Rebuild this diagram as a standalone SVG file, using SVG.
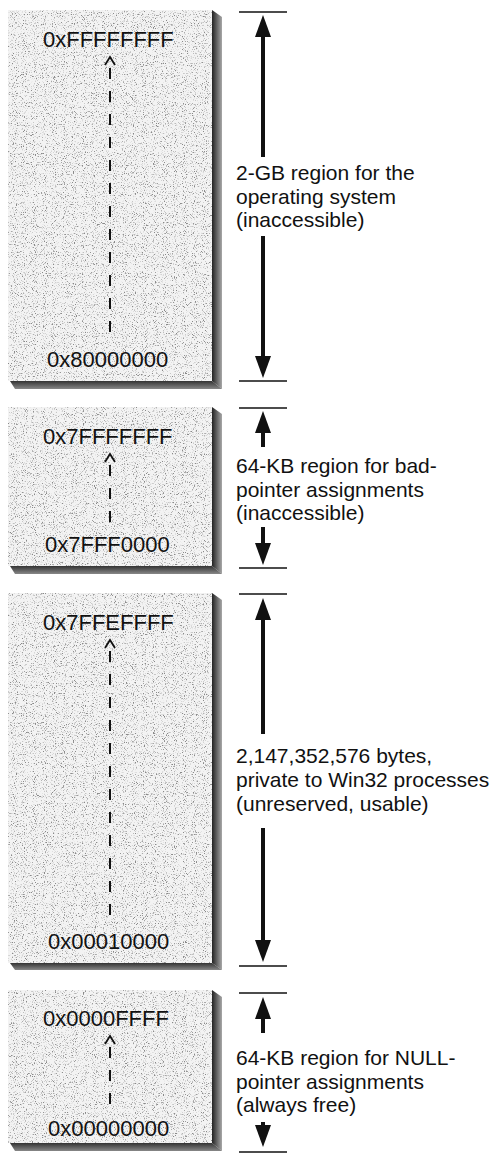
<svg xmlns="http://www.w3.org/2000/svg" width="493" height="1154" viewBox="0 0 493 1154">
  <style>
    .box { fill: #f3f3f3; filter: url(#grain); }
    .addr { font-family: "Liberation Sans", Arial, sans-serif; font-size: 22px; fill: #111; }
    .note { font-family: "Liberation Sans", Arial, sans-serif; font-size: 21px; fill: #111; }
    .shR { fill: url(#shadeR); }
    .shB { fill: url(#shadeB); }
    .trace { stroke: #111; stroke-width: 2; fill: none; stroke-dasharray: 11 12; }
    .chev { stroke: #111; stroke-width: 1.8; fill: none; }
    .tick { stroke: #111; stroke-width: 1.6; }
    .dim { stroke: #111; stroke-width: 4; fill: none; marker-end: url(#head); }
  </style>
  <defs>
    <filter id="grain" x="0" y="0" width="100%" height="100%">
      <feTurbulence type="fractalNoise" baseFrequency="0.9" numOctaves="2" seed="7" result="n"/>
      <feColorMatrix in="n" type="matrix" values="0 0 0 0 0.25  0 0 0 0 0.25  0 0 0 0 0.25  5 0 0 0 -2.75" result="dots"/>
      <feComposite in="dots" in2="SourceGraphic" operator="in" result="clip"/>
      <feMerge><feMergeNode in="SourceGraphic"/><feMergeNode in="clip"/></feMerge>
    </filter>
    <linearGradient id="shadeR" x1="0" y1="0" x2="1" y2="0">
      <stop offset="0" stop-color="#222"/>
      <stop offset="1" stop-color="#a8a8a8"/>
    </linearGradient>
    <linearGradient id="shadeB" x1="0" y1="0" x2="0" y2="1">
      <stop offset="0" stop-color="#333"/>
      <stop offset="1" stop-color="#888"/>
    </linearGradient>
    <marker id="head" markerUnits="userSpaceOnUse" markerWidth="22" markerHeight="16" viewBox="0 0 22 16" refX="4" refY="8" orient="auto">
      <path d="M0,0 L22,8 L0,16 z" fill="#111"/>
    </marker>
  </defs>

  <!-- Operating system partition -->
  <g id="region-os">
    <rect class="box" x="8" y="10" width="204" height="371"/>
    <polygon class="shR" points="212,10 222,17 222,389 212,381"/>
    <polygon class="shB" points="10,381 212,381 222,389 15,389"/>
    <text class="addr" x="43" y="47">0xFFFFFFFF</text>
    <polyline class="chev" points="105,65 110,57 115,65"/>
    <line class="trace" x1="110" y1="68" x2="110" y2="343"/>
    <text class="addr" x="47" y="367">0x80000000</text>
    <text class="note" x="236" y="180">2-GB region for the</text>
    <text class="note" x="236" y="203.5">operating system</text>
    <text class="note" x="236" y="227">(inaccessible)</text>
  </g>

  <!-- Bad-pointer partition -->
  <g id="region-badptr">
    <rect class="box" x="8" y="407" width="204" height="159"/>
    <polygon class="shR" points="212,407 222,414 222,574 212,566"/>
    <polygon class="shB" points="10,566 212,566 222,574 15,574"/>
    <text class="addr" x="43" y="444">0x7FFFFFFF</text>
    <polyline class="chev" points="105,462 110,454 115,462"/>
    <line class="trace" x1="110" y1="465" x2="110" y2="529"/>
    <text class="addr" x="45" y="552">0x7FFF0000</text>
    <text class="note" x="236" y="473">64-KB region for bad-</text>
    <text class="note" x="236" y="496.5">pointer assignments</text>
    <text class="note" x="236" y="520">(inaccessible)</text>
  </g>

  <!-- User-mode partition -->
  <g id="region-user">
    <rect class="box" x="8" y="593" width="204" height="370"/>
    <polygon class="shR" points="212,593 222,600 222,970 212,963"/>
    <polygon class="shB" points="10,963 212,963 222,970 15,970"/>
    <text class="addr" x="43" y="630">0x7FFEFFFF</text>
    <polyline class="chev" points="105,648 110,640 115,648"/>
    <line class="trace" x1="110" y1="651" x2="110" y2="926"/>
    <text class="addr" x="48" y="949">0x00010000</text>
    <text class="note" x="236" y="763">2,147,352,576 bytes,</text>
    <text class="note" x="236" y="787">private to Win32 processes</text>
    <text class="note" x="236" y="811">(unreserved, usable)</text>
  </g>

  <!-- NULL-pointer partition -->
  <g id="region-null">
    <rect class="box" x="8" y="990" width="204" height="153"/>
    <polygon class="shR" points="212,990 222,997 222,1151 212,1143"/>
    <polygon class="shB" points="10,1143 212,1143 222,1151 15,1151"/>
    <text class="addr" x="43" y="1026">0x0000FFFF</text>
    <polyline class="chev" points="105,1044 110,1036 115,1044"/>
    <line class="trace" x1="110" y1="1047" x2="110" y2="1113"/>
    <text class="addr" x="48" y="1136">0x00000000</text>
    <text class="note" x="236" y="1065">64-KB region for NULL-</text>
    <text class="note" x="236" y="1088.5">pointer assignments</text>
    <text class="note" x="236" y="1112">(always free)</text>
  </g>

  <!-- Dimension lines and arrows -->
  <g id="connectors">
    <line class="tick" x1="239" y1="12" x2="287" y2="12"/>
    <line class="tick" x1="239" y1="381" x2="287" y2="381"/>
    <line class="tick" x1="239" y1="408" x2="287" y2="408"/>
    <line class="tick" x1="239" y1="568" x2="287" y2="568"/>
    <line class="tick" x1="239" y1="594" x2="287" y2="594"/>
    <line class="tick" x1="239" y1="966" x2="287" y2="966"/>
    <line class="tick" x1="239" y1="993" x2="287" y2="993"/>
    <line class="tick" x1="239" y1="1152" x2="287" y2="1152"/>

    <line class="dim" x1="263" y1="157" x2="263" y2="33"/>
    <line class="dim" x1="263" y1="236" x2="263" y2="360"/>

    <line class="dim" x1="263" y1="447" x2="263" y2="429"/>
    <line class="dim" x1="263" y1="527" x2="263" y2="547"/>

    <line class="dim" x1="263" y1="734" x2="263" y2="616"/>
    <line class="dim" x1="263" y1="828" x2="263" y2="944"/>

    <line class="dim" x1="263" y1="1033" x2="263" y2="1015"/>
    <line class="dim" x1="263" y1="1122" x2="263" y2="1129"/>
  </g>
</svg>
